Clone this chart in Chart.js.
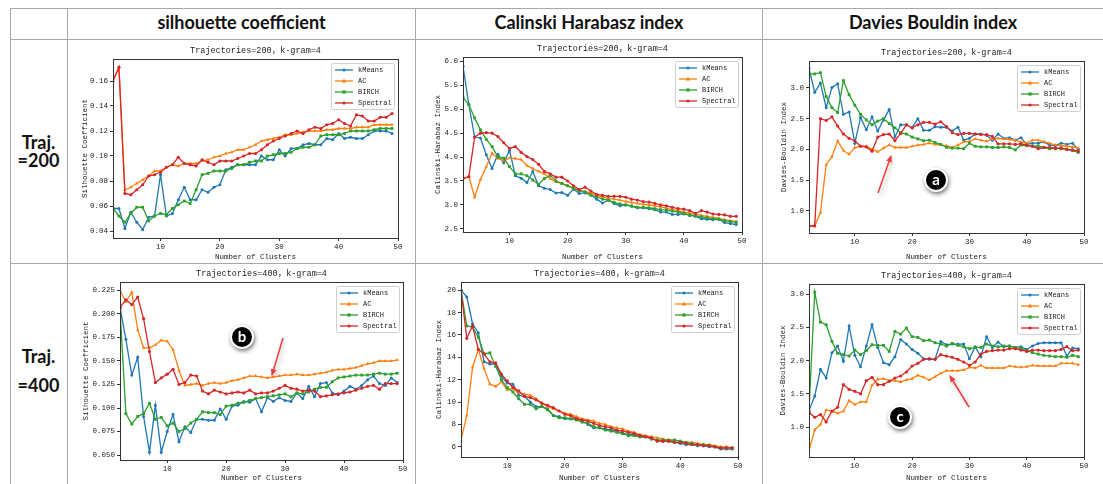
<!DOCTYPE html>
<html>
<head>
<meta charset="utf-8">
<title>Clustering indexes</title>
<script src="https://cdn.jsdelivr.net/npm/chart.js@4.4.1/dist/chart.umd.min.js"></script>
<style>
  body { margin: 0; background: #fff; width: 1103px; height: 484px; overflow: hidden; position: relative; font-family: Lato, "Open Sans", sans-serif; }
  .hline, .vline { position: absolute; background: #a8a8a8; }
  .head { position: absolute; height: 18px; line-height: 18px; text-align: center; font-weight: bold; font-size: 18px; color: #111; white-space: nowrap; }
  .rowlab { position: absolute; left: 10px; width: 57px; height: 18px; line-height: 18px; text-align: center; font-weight: bold; font-size: 18px; color: #111; }
  canvas { position: absolute; }
  .badge { position: absolute; width: 20px; height: 20px; border-radius: 50%; background: #000; border: 2px solid #fff; box-shadow: 1px 2px 4px rgba(0,0,0,0.55); color: #fff; font: bold 15px Lato, sans-serif; line-height: 19px; text-align: center; z-index: 5; }
  svg { position: absolute; left: 0; top: 0; z-index: 4; }
</style>
</head>
<body>

<div class="hline" style="left:10px; top:8px; width:1093px; height:1px;"></div>
<div class="hline" style="left:10px; top:39px; width:1093px; height:1px;"></div>
<div class="hline" style="left:10px; top:263px; width:1093px; height:1px;"></div>
<div class="vline" style="left:10px; top:8px; width:1px; height:476px;"></div>
<div class="vline" style="left:67px; top:8px; width:1px; height:476px;"></div>
<div class="vline" style="left:415px; top:8px; width:1px; height:476px;"></div>
<div class="vline" style="left:762px; top:8px; width:1px; height:476px;"></div>

<div class="head" style="left:68px; width:347px; top:13px;">silhouette coefficient</div>
<div class="head" style="left:416px; width:346px; top:13px;">Calinski Harabasz index</div>
<div class="head" style="left:763px; width:340px; top:13px;">Davies Bouldin index</div>

<div class="rowlab" style="top:133px;">Traj.</div>
<div class="rowlab" style="top:151px;">=200</div>
<div class="rowlab" style="top:347px;">Traj.</div>
<div class="rowlab" style="top:376px;">=400</div>

<div class="badge" style="left:924px; top:168px;">a</div>
<div class="badge" style="left:230px; top:325px;">b</div>
<div class="badge" style="left:888px; top:405px;">c</div>

<svg width="1103" height="484">
  <defs>
    <marker id="head" markerWidth="7" markerHeight="6" refX="6" refY="3" orient="auto" markerUnits="userSpaceOnUse">
      <path d="M0,0 L7,3 L0,6 Z" fill="#ef3b3b"/>
    </marker>
    <filter id="shade"><feDropShadow dx="2" dy="2" stdDeviation="2" flood-color="#000" flood-opacity="0.25"/></filter>
  </defs>
  <line x1="878" y1="193" x2="891" y2="156" stroke="#ef3b3b" stroke-width="1.5" marker-end="url(#head)" filter="url(#shade)"/>
  <line x1="283" y1="338" x2="272" y2="375" stroke="#ef3b3b" stroke-width="1.5" marker-end="url(#head)" filter="url(#shade)"/>
  <line x1="969" y1="407" x2="950" y2="376" stroke="#ef3b3b" stroke-width="1.5" marker-end="url(#head)" filter="url(#shade)"/>
</svg>

<script>
// ---------------- data ----------------
const clusters = [2, 3, 4, 5, 6, 7, 8, 9, 10, 11, 12, 13, 14, 15, 16, 17, 18, 19, 20, 21, 22, 23, 24, 25,
  26, 27, 28, 29, 30, 31, 32, 33, 34, 35, 36, 37, 38, 39, 40, 41, 42, 43, 44, 45, 46, 47, 48, 49];
const xTicks = [10, 20, 30, 40, 50];

// silhouette coefficient, 200 trajectories
const silKMeans200 = [0.058, 0.058, 0.042, 0.055, 0.047, 0.041, 0.051, 0.052, 0.085, 0.052, 0.054, 0.065, 0.075, 0.065, 0.065, 0.073,
  0.071, 0.075, 0.077, 0.089, 0.091, 0.093, 0.093, 0.093, 0.093, 0.100, 0.097, 0.097, 0.105, 0.100, 0.106, 0.106,
  0.109, 0.110, 0.109, 0.109, 0.114, 0.113, 0.118, 0.114, 0.115, 0.114, 0.114, 0.117, 0.120, 0.120, 0.120, 0.118];
const silAC200 = [0.160, 0.171, 0.073, 0.075, 0.078, 0.081, 0.084, 0.088, 0.088, 0.091, 0.093, 0.092, 0.094, 0.094, 0.094, 0.096,
  0.097, 0.099, 0.100, 0.102, 0.103, 0.105, 0.105, 0.107, 0.109, 0.112, 0.113, 0.114, 0.115, 0.117, 0.117, 0.118,
  0.119, 0.120, 0.120, 0.120, 0.121, 0.121, 0.122, 0.122, 0.122, 0.123, 0.123, 0.123, 0.125, 0.125, 0.125, 0.125];
const silBirch200 = [0.058, 0.052, 0.047, 0.054, 0.059, 0.059, 0.048, 0.052, 0.054, 0.053, 0.058, 0.061, 0.064, 0.062, 0.073, 0.085,
  0.086, 0.088, 0.088, 0.088, 0.090, 0.093, 0.093, 0.095, 0.096, 0.096, 0.100, 0.101, 0.102, 0.102, 0.103, 0.106,
  0.107, 0.107, 0.109, 0.116, 0.117, 0.117, 0.117, 0.118, 0.120, 0.120, 0.120, 0.120, 0.121, 0.122, 0.122, 0.122];
const silSpectral200 = [0.160, 0.171, 0.070, 0.069, 0.073, 0.077, 0.084, 0.085, 0.087, 0.091, 0.093, 0.099, 0.094, 0.093, 0.092, 0.097,
  0.095, 0.093, 0.096, 0.096, 0.096, 0.098, 0.100, 0.102, 0.102, 0.105, 0.109, 0.112, 0.114, 0.116, 0.118, 0.120,
  0.118, 0.121, 0.123, 0.122, 0.125, 0.126, 0.129, 0.126, 0.124, 0.133, 0.132, 0.128, 0.128, 0.131, 0.131, 0.134];

// Calinski-Harabasz index, 200 trajectories
const chKMeans200 = [5.90, 5.10, 4.42, 4.40, 4.05, 3.76, 4.06, 3.88, 4.14, 3.61, 3.56, 3.47, 3.70, 3.40, 3.35, 3.32,
  3.25, 3.26, 3.20, 3.33, 3.24, 3.25, 3.22, 3.12, 3.04, 3.10, 3.03, 2.98, 3.00, 2.97, 2.94, 2.94,
  2.92, 2.90, 2.85, 2.85, 2.80, 2.80, 2.81, 2.78, 2.76, 2.71, 2.70, 2.69, 2.70, 2.63, 2.61, 2.59];
const chAC200 = [3.55, 3.59, 3.16, 3.53, 3.80, 4.08, 3.97, 3.93, 3.98, 3.97, 3.95, 3.82, 3.76, 3.70, 3.65, 3.55,
  3.48, 3.45, 3.40, 3.35, 3.30, 3.28, 3.25, 3.20, 3.17, 3.13, 3.12, 3.10, 3.07, 3.05, 3.03, 3.01,
  3.00, 2.98, 2.96, 2.93, 2.90, 2.88, 2.85, 2.83, 2.80, 2.78, 2.76, 2.74, 2.72, 2.69, 2.67, 2.65];
const chBirch200 = [5.25, 5.10, 4.82, 4.57, 4.37, 4.22, 4.00, 3.98, 3.80, 3.65, 3.65, 3.61, 3.52, 3.43, 3.55, 3.62,
  3.50, 3.45, 3.40, 3.34, 3.30, 3.27, 3.20, 3.17, 3.12, 3.10, 3.05, 3.02, 3.00, 2.98, 2.95, 2.95,
  2.94, 2.92, 2.90, 2.89, 2.87, 2.85, 2.82, 2.79, 2.77, 2.75, 2.73, 2.71, 2.70, 2.67, 2.65, 2.64];
const chSpectral200 = [3.55, 3.59, 4.42, 4.50, 4.51, 4.50, 4.43, 4.30, 4.18, 4.22, 4.10, 4.01, 3.95, 3.85, 3.70, 3.65,
  3.58, 3.58, 3.50, 3.40, 3.32, 3.37, 3.29, 3.22, 3.20, 3.18, 3.18, 3.18, 3.16, 3.12, 3.10, 3.07,
  3.06, 3.03, 3.00, 2.98, 2.95, 2.92, 2.91, 2.88, 2.82, 2.88, 2.85, 2.81, 2.80, 2.79, 2.76, 2.76];

// Davies-Bouldin index, 200 trajectories
const dbKMeans200 = [3.32, 2.93, 3.08, 2.68, 3.01, 3.07, 2.57, 2.61, 2.10, 2.52, 2.32, 2.53, 2.30, 2.48, 2.65, 2.20,
  2.40, 2.40, 2.35, 2.50, 2.31, 2.31, 2.37, 2.36, 2.36, 2.30, 2.36, 2.15, 2.18, 2.25, 2.25, 2.23,
  2.15, 2.25, 2.18, 2.19, 2.15, 2.19, 2.08, 2.10, 2.10, 2.12, 2.07, 2.06, 2.10, 2.08, 2.10, 2.00];
const dbAC200 = [0.75, 0.75, 0.97, 1.75, 1.88, 2.14, 1.98, 1.92, 2.03, 2.05, 2.05, 2.00, 1.96, 2.02, 2.07, 2.03,
  2.03, 2.03, 2.05, 2.07, 2.08, 2.10, 2.08, 2.07, 2.06, 2.03, 2.07, 2.12, 2.13, 2.17, 2.15, 2.13,
  2.17, 2.18, 2.17, 2.16, 2.15, 2.12, 2.10, 2.15, 2.15, 2.12, 2.10, 2.07, 2.06, 2.05, 2.04, 2.02];
const dbBirch200 = [3.23, 3.23, 3.25, 2.86, 2.68, 2.60, 3.12, 2.89, 2.72, 2.57, 2.48, 2.40, 2.46, 2.50, 2.42, 2.35,
  2.27, 2.25, 2.20, 2.17, 2.14, 2.15, 2.11, 2.08, 2.03, 2.02, 2.02, 2.01, 2.10, 2.05, 2.04, 2.04,
  2.03, 2.03, 2.04, 2.03, 1.99, 2.07, 2.06, 2.05, 2.05, 2.03, 2.01, 2.01, 2.01, 2.00, 1.98, 1.95];
const dbSpectral200 = [0.75, 0.75, 2.50, 2.47, 2.53, 2.38, 2.25, 2.18, 2.14, 2.05, 2.04, 1.97, 2.20, 2.24, 2.25, 2.14,
  2.26, 2.40, 2.35, 2.40, 2.44, 2.44, 2.41, 2.45, 2.37, 2.27, 2.24, 2.26, 2.26, 2.25, 2.24, 2.24,
  2.21, 2.09, 2.09, 2.09, 2.08, 2.09, 2.07, 2.05, 2.01, 2.03, 2.03, 2.02, 2.02, 2.00, 1.99, 1.97];

// silhouette coefficient, 400 trajectories
const silKMeans400 = [0.207, 0.173, 0.135, 0.154, 0.091, 0.053, 0.103, 0.053, 0.075, 0.093, 0.064, 0.080, 0.074, 0.088, 0.088, 0.087,
  0.087, 0.099, 0.088, 0.102, 0.103, 0.107, 0.106, 0.110, 0.096, 0.111, 0.107, 0.111, 0.108, 0.107, 0.116, 0.110,
  0.123, 0.112, 0.126, 0.127, 0.116, 0.114, 0.118, 0.123, 0.120, 0.124, 0.130, 0.134, 0.126, 0.124, 0.132, 0.127];
const silAC400 = [0.225, 0.213, 0.223, 0.183, 0.164, 0.164, 0.167, 0.172, 0.171, 0.162, 0.140, 0.124, 0.125, 0.126, 0.124, 0.126,
  0.127, 0.126, 0.127, 0.129, 0.130, 0.132, 0.134, 0.134, 0.133, 0.132, 0.133, 0.134, 0.135, 0.135, 0.136, 0.135,
  0.135, 0.136, 0.137, 0.138, 0.140, 0.141, 0.141, 0.142, 0.143, 0.145, 0.147, 0.148, 0.150, 0.150, 0.150, 0.151];
const silBirch400 = [0.205, 0.094, 0.083, 0.091, 0.094, 0.105, 0.088, 0.090, 0.081, 0.084, 0.075, 0.078, 0.084, 0.088, 0.096, 0.095,
  0.095, 0.093, 0.102, 0.103, 0.105, 0.106, 0.108, 0.110, 0.111, 0.112, 0.113, 0.114, 0.115, 0.112, 0.116, 0.115,
  0.117, 0.120, 0.122, 0.122, 0.128, 0.132, 0.133, 0.134, 0.135, 0.135, 0.135, 0.136, 0.137, 0.136, 0.136, 0.137];
const silSpectral400 = [0.207, 0.215, 0.210, 0.218, 0.195, 0.160, 0.127, 0.132, 0.136, 0.141, 0.125, 0.127, 0.135, 0.134, 0.118, 0.115,
  0.119, 0.117, 0.115, 0.116, 0.117, 0.116, 0.119, 0.115, 0.116, 0.116, 0.118, 0.121, 0.124, 0.121, 0.120, 0.118,
  0.119, 0.118, 0.112, 0.113, 0.114, 0.115, 0.116, 0.117, 0.119, 0.121, 0.123, 0.124, 0.120, 0.126, 0.126, 0.126];

// Calinski-Harabasz index, 400 trajectories
const chKMeans400 = [20.0, 19.4, 17.0, 16.2, 13.6, 13.4, 13.4, 12.3, 11.7, 11.6, 10.6, 10.5, 10.0, 9.6, 9.6, 9.4,
  8.8, 8.7, 8.5, 8.5, 8.6, 8.3, 8.0, 7.7, 7.7, 7.6, 7.5, 7.4, 7.2, 7.1, 7.1, 6.9,
  6.9, 6.7, 6.6, 6.5, 6.5, 6.4, 6.3, 6.2, 6.2, 6.1, 6.1, 6.0, 6.0, 5.8, 5.8, 5.8];
const chAC400 = [6.6, 8.8, 13.1, 14.7, 13.0, 11.6, 11.4, 11.8, 11.1, 11.2, 10.8, 10.7, 10.6, 10.3, 9.9, 9.6,
  9.4, 9.2, 9.0, 8.9, 8.7, 8.5, 8.4, 8.3, 8.1, 8.0, 7.8, 7.7, 7.6, 7.4, 7.3, 7.1,
  7.0, 6.9, 6.8, 6.7, 6.6, 6.6, 6.5, 6.4, 6.4, 6.3, 6.2, 6.2, 6.1, 6.0, 6.0, 5.9];
const chBirch400 = [20.0, 16.8, 16.7, 15.8, 14.3, 14.4, 13.2, 12.0, 11.3, 10.9, 10.3, 9.8, 9.8, 9.4, 9.6, 9.3,
  8.8, 8.6, 8.6, 8.5, 8.4, 8.2, 8.1, 7.8, 7.7, 7.5, 7.4, 7.3, 7.2, 7.0, 7.0, 6.9,
  6.9, 6.7, 6.6, 6.6, 6.6, 6.6, 6.5, 6.4, 6.3, 6.2, 6.2, 6.1, 6.0, 5.9, 5.9, 5.9];
const chSpectral400 = [20.0, 15.7, 16.8, 14.7, 14.3, 13.6, 13.5, 12.5, 11.9, 11.3, 11.0, 10.5, 10.4, 10.2, 9.9, 9.7,
  9.5, 9.2, 8.9, 8.8, 8.5, 8.4, 8.3, 8.1, 7.9, 7.8, 7.7, 7.5, 7.4, 7.3, 7.2, 7.0,
  6.9, 6.8, 6.5, 6.5, 6.5, 6.4, 6.4, 6.3, 6.2, 6.2, 6.1, 6.1, 6.0, 5.9, 5.9, 5.9];

// Davies-Bouldin index, 400 trajectories
const dbKMeans400 = [1.25, 1.47, 1.87, 1.74, 2.12, 2.22, 1.99, 2.52, 2.08, 1.91, 2.22, 2.54, 2.20, 1.97, 1.94, 2.06,
  2.32, 2.25, 2.17, 2.11, 2.03, 2.02, 2.02, 2.29, 2.24, 2.25, 2.25, 2.25, 2.03, 2.21, 2.06, 2.36,
  2.20, 2.28, 2.21, 2.22, 2.20, 2.21, 2.17, 2.22, 2.26, 2.27, 2.27, 2.27, 2.27, 2.07, 2.19, 2.18];
const dbAC400 = [0.65, 0.96, 1.04, 1.26, 1.24, 1.21, 1.24, 1.40, 1.34, 1.38, 1.38, 1.63, 1.72, 1.73, 1.70, 1.70,
  1.68, 1.71, 1.73, 1.78, 1.75, 1.71, 1.76, 1.81, 1.85, 1.85, 1.85, 1.86, 1.90, 1.89, 1.93, 1.89,
  1.89, 1.89, 1.89, 1.92, 1.91, 1.90, 1.91, 1.93, 1.92, 1.92, 1.92, 1.92, 1.96, 1.96, 1.96, 1.94];
const dbBirch400 = [1.25, 3.03, 2.58, 2.54, 2.29, 2.11, 2.09, 2.07, 2.16, 2.09, 2.15, 2.24, 2.23, 2.23, 2.14, 2.44,
  2.40, 2.49, 2.36, 2.35, 2.30, 2.31, 2.27, 2.25, 2.22, 2.26, 2.23, 2.21, 2.18, 2.20, 2.20, 2.25,
  2.22, 2.21, 2.22, 2.22, 2.20, 2.18, 2.15, 2.12, 2.10, 2.08, 2.07, 2.06, 2.06, 2.05, 2.08, 2.06];
const dbSpectral400 = [1.22, 1.15, 1.19, 1.08, 1.24, 1.30, 1.64, 1.57, 1.54, 1.50, 1.70, 1.75, 1.64, 1.64, 1.69, 1.74,
  1.77, 1.83, 1.92, 1.96, 2.02, 2.03, 2.02, 2.09, 2.07, 2.05, 2.02, 1.98, 1.93, 1.98, 2.10, 2.14,
  2.15, 2.16, 2.16, 2.18, 2.18, 2.16, 2.14, 2.16, 2.16, 2.15, 2.15, 2.15, 2.17, 2.21, 2.15, 2.16];

// y tick labels
const silTicks200 = [0.04, 0.06, 0.08, 0.10, 0.12, 0.14, 0.16];
const chTicks200 = [2.5, 3.0, 3.5, 4.0, 4.5, 5.0, 5.5, 6.0];
const dbTicks200 = [1.0, 1.5, 2.0, 2.5, 3.0];
const silTicks400 = [0.050, 0.075, 0.100, 0.125, 0.150, 0.175, 0.200, 0.225];
const chTicks400 = [6, 8, 10, 12, 14, 16, 18, 20];
const dbTicks400 = [1.0, 1.5, 2.0, 2.5, 3.0];

const seriesNames = ["kMeans", "AC", "BIRCH", "Spectral"];

// ---------------- styling ----------------
const MONO = "'Liberation Mono', 'DejaVu Sans Mono', 'Noto Sans CJK SC', monospace";
const INK = "#222";
const seriesStyle = [
  { color: "#1f77b4", marker: "circle", radius: 1.5, order: 3 },
  { color: "#ff7f0e", marker: "triangle", radius: 2, order: 2 },
  { color: "#2ca02c", marker: "rect", radius: 2, order: 1 },
  { color: "#d62728", marker: "circle", radius: 1.6, order: 0 },
];

function drawMarker(ctx, style, x, y, r) {
  ctx.beginPath();
  if (style === "triangle") {
    ctx.moveTo(x, y - r * 1.2);
    ctx.lineTo(x + r * 1.1, y + r * 0.7);
    ctx.lineTo(x - r * 1.1, y + r * 0.7);
    ctx.closePath();
  } else if (style === "rect") {
    ctx.rect(x - r * 0.8, y - r * 0.8, r * 1.6, r * 1.6);
  } else {
    ctx.arc(x, y, r, 0, Math.PI * 2);
  }
  ctx.fill();
}

// matplotlib-like box around the plot plus an in-axes legend at the upper right
const frameLegendPlugin = {
  id: "frameLegend",
  afterDatasetsDraw(chart) {
    const { ctx, chartArea: a } = chart;
    ctx.save();
    ctx.strokeStyle = "#333";
    ctx.lineWidth = 1;
    ctx.strokeRect(a.left + 0.5, a.top + 0.5, a.right - a.left, a.bottom - a.top);

    const w = 63, h = 46;
    const bx = a.right - 4 - w, by = a.top + 4;
    ctx.fillStyle = "rgba(255,255,255,0.85)";
    ctx.strokeStyle = "#cfcfcf";
    ctx.beginPath();
    ctx.roundRect(bx + 0.5, by + 0.5, w, h, 2);
    ctx.fill();
    ctx.stroke();

    ctx.font = "7px " + MONO;
    ctx.textBaseline = "middle";
    seriesNames.forEach((name, i) => {
      const st = seriesStyle[i];
      const y = by + 7 + i * 11;
      ctx.strokeStyle = st.color;
      ctx.fillStyle = st.color;
      ctx.lineWidth = 1.3;
      ctx.beginPath();
      ctx.moveTo(bx + 4, y);
      ctx.lineTo(bx + 22, y);
      ctx.stroke();
      drawMarker(ctx, st.marker, bx + 13, y, st.radius);
      ctx.fillStyle = INK;
      ctx.fillText(name, bx + 27, y);
    });
    ctx.restore();
  },
};

// ---------------- panels ----------------
// cell = canvas rectangle [left, top, width, height]; plot = [left, top, right, bottom] on the page
const panels = [
  { cell: [68, 40, 347, 223], plot: [113, 59, 398, 238], yMin: 0.0344, yMax: 0.1776, ticks: silTicks200, dec: 2,
    yTitle: "Silhouette Coefficient", yTitleX: 85, traj: 200,
    values: [silKMeans200, silAC200, silBirch200, silSpectral200] },
  { cell: [416, 40, 346, 223], plot: [463, 57, 742, 232], yMin: 2.433, yMax: 6.094, ticks: chTicks200, dec: 1,
    yTitle: "Calinski-Harabaz Index", yTitleX: 438, traj: 200,
    values: [chKMeans200, chAC200, chBirch200, chSpectral200] },
  { cell: [763, 40, 340, 223], plot: [809, 61, 1084, 233], yMin: 0.636, yMax: 3.44, ticks: dbTicks200, dec: 1,
    yTitle: "Davies-Bouldin Index", yTitleX: 784, traj: 200,
    values: [dbKMeans200, dbAC200, dbBirch200, dbSpectral200] },
  { cell: [68, 264, 347, 220], plot: [120, 282, 403, 460], yMin: 0.0447, yMax: 0.234, ticks: silTicks400, dec: 3,
    yTitle: "Silhouette Coefficient", yTitleX: 86, traj: 400,
    values: [silKMeans400, silAC400, silBirch400, silSpectral400] },
  { cell: [416, 264, 346, 220], plot: [461, 282, 738, 457], yMin: 5.09, yMax: 20.73, ticks: chTicks400, dec: 0,
    yTitle: "Calinski-Harabaz Index", yTitleX: 439, traj: 400,
    values: [chKMeans400, chAC400, chBirch400, chSpectral400] },
  { cell: [763, 264, 340, 220], plot: [809, 284, 1084, 457], yMin: 0.552, yMax: 3.153, ticks: dbTicks400, dec: 1,
    yTitle: "Davies-Bouldin Index", yTitleX: 783, traj: 400,
    values: [dbKMeans400, dbAC400, dbBirch400, dbSpectral400] },
];

const TITLE_SIZE = 8.5, TITLE_GAP = 3, TICK_SIZE = 7.5;

panels.forEach((p, idx) => {
  const [cl, ct, cw, ch] = p.cell;
  const [pl, pt, pr, pb] = p.plot;
  const canvas = document.createElement("canvas");
  canvas.id = "chart" + idx;
  canvas.width = cw;
  canvas.height = ch;
  canvas.style.left = cl + "px";
  canvas.style.top = ct + "px";
  document.body.appendChild(canvas);

  const yAxisWidth = pl - cl;
  const xAxisHeight = ct + ch - pb;
  const titleH = TITLE_SIZE * 1.2 + TITLE_GAP;

  new Chart(canvas, {
    type: "line",
    data: {
      datasets: p.values.map((vals, i) => ({
        label: seriesNames[i],
        data: clusters.map((k, j) => ({ x: k, y: vals[j] })),
        borderColor: seriesStyle[i].color,
        backgroundColor: seriesStyle[i].color,
        borderWidth: 1.3,
        pointStyle: seriesStyle[i].marker,
        pointRadius: seriesStyle[i].radius,
        pointBorderWidth: 0,
        order: seriesStyle[i].order,
        tension: 0,
      })),
    },
    options: {
      responsive: false,
      animation: false,
      events: [],
      layout: { padding: { left: 0, right: cl + cw - pr, top: pt - ct - titleH, bottom: 0 } },
      plugins: {
        legend: { display: false },
        tooltip: { enabled: false },
        title: {
          display: true,
          fullSize: false,
          text: "Trajectories=" + p.traj + "，k-gram=4",
          color: INK,
          font: { family: MONO, size: TITLE_SIZE, weight: "normal" },
          padding: { top: 0, bottom: TITLE_GAP },
        },
      },
      scales: {
        x: {
          type: "linear",
          min: 2,
          max: 50,
          afterBuildTicks: (axis) => { axis.ticks = xTicks.map((v) => ({ value: v })); },
          afterFit: (axis) => { axis.height = xAxisHeight; },
          grid: { drawOnChartArea: false, drawTicks: true, tickLength: 3, color: "#333" },
          border: { display: false },
          ticks: { color: INK, font: { family: MONO, size: TICK_SIZE }, padding: 2, maxRotation: 0 },
          title: {
            display: true, text: "Number of Clusters", color: INK,
            font: { family: MONO, size: TICK_SIZE }, padding: { top: 0, bottom: 1.5 },
          },
        },
        y: {
          type: "linear",
          min: p.yMin,
          max: p.yMax,
          afterBuildTicks: (axis) => { axis.ticks = p.ticks.map((v) => ({ value: v })); },
          afterFit: (axis) => { axis.width = yAxisWidth; },
          grid: { drawOnChartArea: false, drawTicks: true, tickLength: 3, color: "#333" },
          border: { display: false },
          ticks: {
            color: INK, font: { family: MONO, size: TICK_SIZE }, padding: 2,
            callback: (v) => Number(v).toFixed(p.dec),
          },
          title: {
            display: true, text: p.yTitle, color: INK,
            font: { family: MONO, size: TICK_SIZE }, padding: { top: p.yTitleX - cl - TICK_SIZE * 0.6, bottom: 0 },
          },
        },
      },
    },
    plugins: [frameLegendPlugin],
  });
});
</script>
</body>
</html>
